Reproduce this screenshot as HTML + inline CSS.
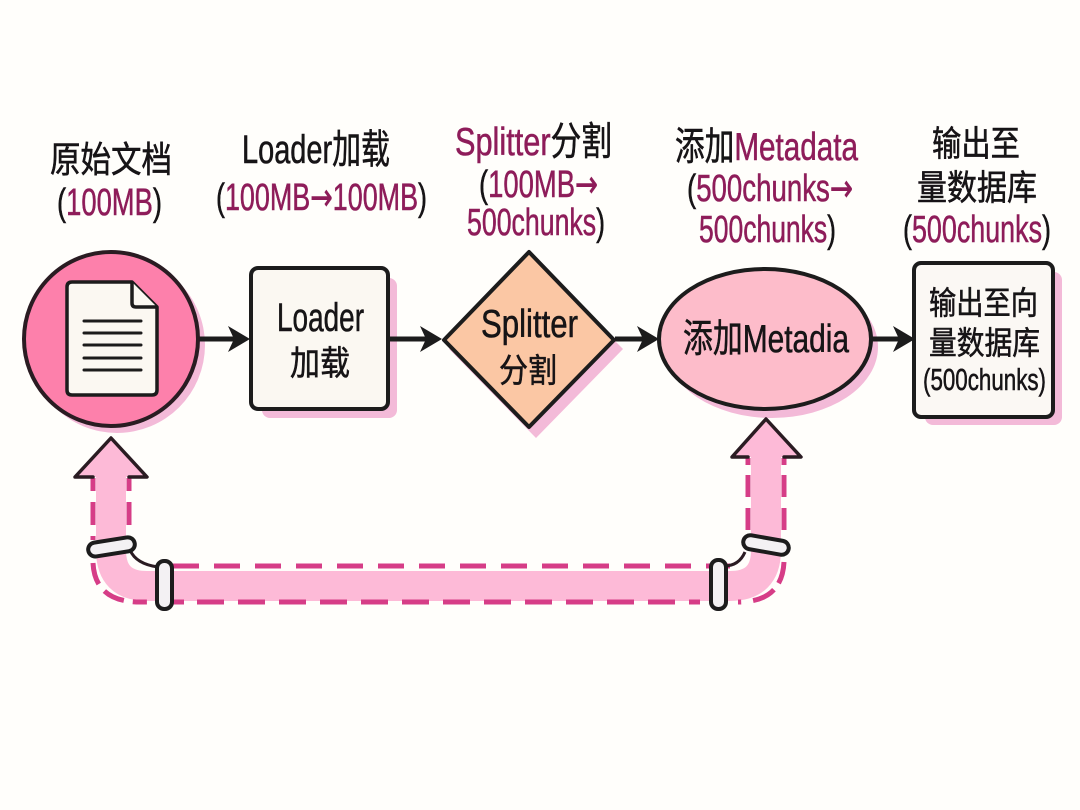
<!DOCTYPE html>
<html lang="zh">
<head>
<meta charset="utf-8">
<style>
html,body{margin:0;padding:0;background:#fffefb;}
svg{display:block;}
text{font-family:"Liberation Sans","Noto Sans CJK SC",sans-serif;fill:#141214;stroke:#141214;stroke-width:.55px;}
.m{fill:#8e1e5a;stroke:#8e1e5a;}
.a{font-family:"DejaVu Sans",sans-serif;}
</style>
</head>
<body>
<svg width="1080" height="810" viewBox="0 0 1080 810" xmlns="http://www.w3.org/2000/svg">
<defs><filter id="soft" x="-5%" y="-5%" width="110%" height="110%"><feGaussianBlur stdDeviation="0.35"/></filter></defs>
<rect width="1080" height="810" fill="#fffefb"/>
<g filter="url(#soft)">
<!-- Top labels -->
<text x="50" y="172" font-size="36" textLength="122" lengthAdjust="spacingAndGlyphs">原始文档</text>
<text x="57" y="215" font-size="38" textLength="105" lengthAdjust="spacingAndGlyphs">(<tspan class="m">100MB</tspan>)</text>
<text x="242" y="163" font-size="40" textLength="148" lengthAdjust="spacingAndGlyphs">Loader加载</text>
<text x="216" y="210" font-size="38" textLength="211" lengthAdjust="spacingAndGlyphs">(<tspan class="m">100MB<tspan class="a">→</tspan>100MB</tspan>)</text>
<text x="455" y="155" font-size="39" textLength="157" lengthAdjust="spacingAndGlyphs"><tspan class="m">Splitter</tspan>分割</text>
<text x="479" y="197" font-size="38" textLength="119" lengthAdjust="spacingAndGlyphs">(<tspan class="m">100MB<tspan class="a">→</tspan></tspan></text>
<text x="467" y="235" font-size="38" textLength="138" lengthAdjust="spacingAndGlyphs"><tspan class="m">500chunks</tspan>)</text>
<text x="675" y="160" font-size="39" textLength="183" lengthAdjust="spacingAndGlyphs">添加<tspan class="m">Metadata</tspan></text>
<text x="687" y="201" font-size="38" textLength="166" lengthAdjust="spacingAndGlyphs">(<tspan class="m">500chunks<tspan class="a">→</tspan></tspan></text>
<text x="699" y="242" font-size="38" textLength="137" lengthAdjust="spacingAndGlyphs"><tspan class="m">500chunks</tspan>)</text>
<text x="932" y="156" font-size="35" textLength="88" lengthAdjust="spacingAndGlyphs">输出至</text>
<text x="917" y="200" font-size="35" textLength="120" lengthAdjust="spacingAndGlyphs">量数据库</text>
<text x="903" y="242" font-size="38" textLength="148" lengthAdjust="spacingAndGlyphs">(<tspan class="m">500chunks</tspan>)</text>

<!-- Shadows -->
<circle cx="117" cy="345" r="88" fill="#f3bad8"/>
<rect x="262" y="278" width="135" height="140" rx="8" fill="#f3bad8"/>
<polygon points="536,262 623,349 536,438 449,349" fill="#f3bad8"/>
<ellipse cx="772" cy="347" rx="106" ry="71" fill="#f3bad8"/>
<rect x="925" y="272" width="137" height="153" rx="8" fill="#f3bad8"/>

<!-- Connectors -->
<g stroke="#1c1a1c" stroke-width="5" fill="none">
<line x1="198" y1="339" x2="240" y2="339"/>
<line x1="388" y1="339" x2="432" y2="339"/>
<line x1="615" y1="339" x2="650" y2="339"/>
<line x1="871" y1="339" x2="905" y2="339"/>
</g>
<g fill="#1c1a1c">
<polygon points="250,339 228,326 234,339 228,352"/>
<polygon points="442,339 420,326 426,339 420,352"/>
<polygon points="659,339 637,326 643,339 637,352"/>
<polygon points="915,339 893,326 899,339 893,352"/>
</g>

<!-- Circle with document -->
<circle cx="111" cy="339" r="87" fill="#fd80ab" stroke="#2a1a24" stroke-width="4"/>
<path d="M72 282 H132 L157 307 V390 Q157 395 152 395 H72 Q67 395 67 390 V287 Q67 282 72 282 Z" fill="#fbf8f2" stroke="#1c1a1c" stroke-width="3.5" stroke-linejoin="round"/>
<path d="M132 282 V303 Q132 307 136 307 H157" fill="#fbf8f2" stroke="#1c1a1c" stroke-width="3.5" stroke-linejoin="round"/>
<g stroke="#1c1a1c" stroke-width="3" stroke-linecap="round">
<line x1="84" y1="321" x2="141" y2="321"/>
<line x1="84" y1="333" x2="141" y2="333"/>
<line x1="84" y1="345" x2="141" y2="345"/>
<line x1="84" y1="358" x2="141" y2="358"/>
<line x1="84" y1="370" x2="141" y2="370"/>
</g>

<!-- Loader box -->
<rect x="251" y="268" width="137" height="141" rx="7" fill="#fbf8f2" stroke="#1c1a1c" stroke-width="4"/>
<text x="277" y="331" font-size="40" textLength="87" lengthAdjust="spacingAndGlyphs">Loader</text>
<text x="290" y="375" font-size="34" textLength="60" lengthAdjust="spacingAndGlyphs">加载</text>

<!-- Splitter diamond -->
<polygon points="529,252 614,340 529,427 444,340" fill="#fbc7a4" stroke="#1c1a1c" stroke-width="4" stroke-linejoin="round"/>
<text x="481" y="337" font-size="39" textLength="97" lengthAdjust="spacingAndGlyphs">Splitter</text>
<text x="499" y="382" font-size="33" textLength="58" lengthAdjust="spacingAndGlyphs">分割</text>

<!-- Metadata ellipse -->
<ellipse cx="765" cy="339" rx="106" ry="70" fill="#fdbcca" stroke="#1c1a1c" stroke-width="4"/>
<text x="683" y="352" font-size="39" textLength="166" lengthAdjust="spacingAndGlyphs">添加Metadia</text>

<!-- Output box -->
<rect x="914" y="263" width="139" height="154" rx="7" fill="#fbf8f4" stroke="#1c1a1c" stroke-width="4"/>
<text x="929" y="314" font-size="32" textLength="109" lengthAdjust="spacingAndGlyphs">输出至向</text>
<text x="929" y="354" font-size="32" textLength="111" lengthAdjust="spacingAndGlyphs">量数据库</text>
<text x="923" y="390" font-size="31" textLength="123" lengthAdjust="spacingAndGlyphs">(500chunks)</text>

<!-- Pipe -->
<path d="M111 470 V550 Q111 586 147 586 H730 Q766 586 766 550 V450" fill="none" stroke="#fdbad7" stroke-width="30"/>
<g fill="none" stroke="#d63c87" stroke-width="5">
<path d="M93 478 V540" stroke-dasharray="13 11 23 11 5 100"/>
<path d="M129 478 V535" stroke-dasharray="13 11 23 11 5 100"/>
<path d="M93 563 Q95 602 140 602 H150" stroke-dasharray="22 9 22 9 14 100"/>
<path d="M173 566 H730" stroke-dasharray="26 15"/>
<path d="M172 602 H184" />
<path d="M197 602 H700" stroke-dasharray="27 14"/>
<path d="M748 458 V530" stroke-dasharray="7 10 22 11 22 100"/>
<path d="M784 458 V530" stroke-dasharray="7 10 22 11 22 100"/>
<path d="M784 562 Q782 602 738 602" stroke-dasharray="22 8 24 12 9 100"/>
</g>
<!-- Arrowheads -->
<path d="M75 477 L111 438 L147 477 H126 V490 H96 V477 Z" fill="#fdbad7" stroke="none"/>
<path d="M93 477 H75 L111 438 L147 477 H129" fill="none" stroke="#2a1a24" stroke-width="3.5" stroke-linejoin="round" stroke-linecap="round"/>
<path d="M732 457 L766 419 L801 457 H781 V470 H751 V457 Z" fill="#fdbad7" stroke="none"/>
<path d="M748 457 H732 L766 419 L801 457 H784" fill="none" stroke="#2a1a24" stroke-width="3.5" stroke-linejoin="round" stroke-linecap="round"/>
<!-- Elbow inner lines -->
<g fill="none" stroke="#2a1a24" stroke-width="3">
<path d="M130 550 Q136 564 158 567"/>
<path d="M745 552 Q739 566 724 566"/>
</g>
<!-- Collars -->
<g fill="#f3f1f3" stroke="#1c1a1c" stroke-width="4">
<rect x="88" y="540" width="47" height="14" rx="7" transform="rotate(-9 111 547)"/>
<rect x="157" y="561" width="15" height="48" rx="7"/>
<rect x="711" y="560" width="15" height="49" rx="7"/>
<rect x="743" y="538" width="46" height="14" rx="7" transform="rotate(10 766 545)"/>
</g>
</g>
</svg>
</body>
</html>
